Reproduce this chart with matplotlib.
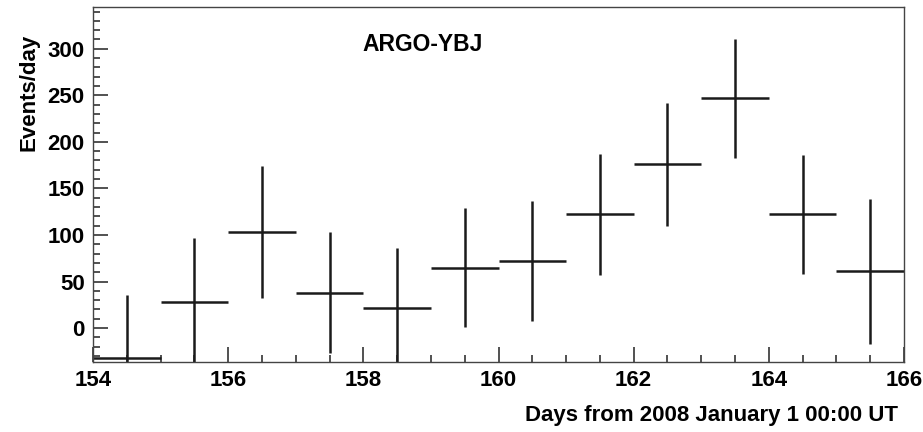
import matplotlib
matplotlib.use("Agg")
import matplotlib.pyplot as plt
from matplotlib.ticker import MultipleLocator
import numpy as np

# daily event rate, one-day bins
bin_lo = [154, 155, 156, 157, 158, 159, 160, 161, 162, 163, 164, 165]
rate = [-32, 28, 103, 38, 22, 65, 72, 122, 176, 247, 122, 61]
rate_err = [68, 69, 71, 65, 64, 64, 64, 65, 66, 64, 64, 78]

plt.rcParams['font.family'] = ['Liberation Sans', 'DejaVu Sans']
plt.rcParams['font.weight'] = 'bold'

fig = plt.figure(figsize=(9.23, 4.32), dpi=100)
ax = fig.add_axes([0.1008, 0.162, 0.8786, 0.822])

x = np.array(bin_lo) + 0.5
ax.errorbar(x, rate, xerr=0.5, yerr=rate_err, fmt='none', ecolor='#1a1a1a',
            elinewidth=1.8, capsize=0)

ax.set_xlim(154, 166)
ax.set_ylim(-36.5, 345)
ax.xaxis.set_major_locator(MultipleLocator(2))
ax.xaxis.set_minor_locator(MultipleLocator(0.5))
ax.yaxis.set_major_locator(MultipleLocator(50))
ax.yaxis.set_minor_locator(MultipleLocator(10))
ax.tick_params(which='both', direction='in', top=False, right=False,
               width=1.2, color='#333333', labelsize=16)
ax.tick_params(which='major', length=11)
ax.tick_params(which='minor', length=5)
ax.tick_params(axis='x', pad=6)
ax.tick_params(axis='y', pad=6)
for s in ax.spines.values():
    s.set_color('#444444')
    s.set_linewidth(1.0)
for lbl in ax.get_xticklabels() + ax.get_yticklabels():
    lbl.set_fontweight('bold')

ax.text(0.406, 0.893, 'ARGO-YBJ', transform=ax.transAxes, fontsize=16.5,
        fontweight='bold', ha='center', va='center')

fig.text(0.973, 0.039, 'Days from 2008 January 1 00:00 UT', ha='right',
         va='center', fontsize=16, fontweight='bold')
fig.text(0.031, 0.787, 'Events/day', rotation=90, ha='center', va='center',
         fontsize=16, fontweight='bold')

fig.savefig('out.png', dpi=100)
